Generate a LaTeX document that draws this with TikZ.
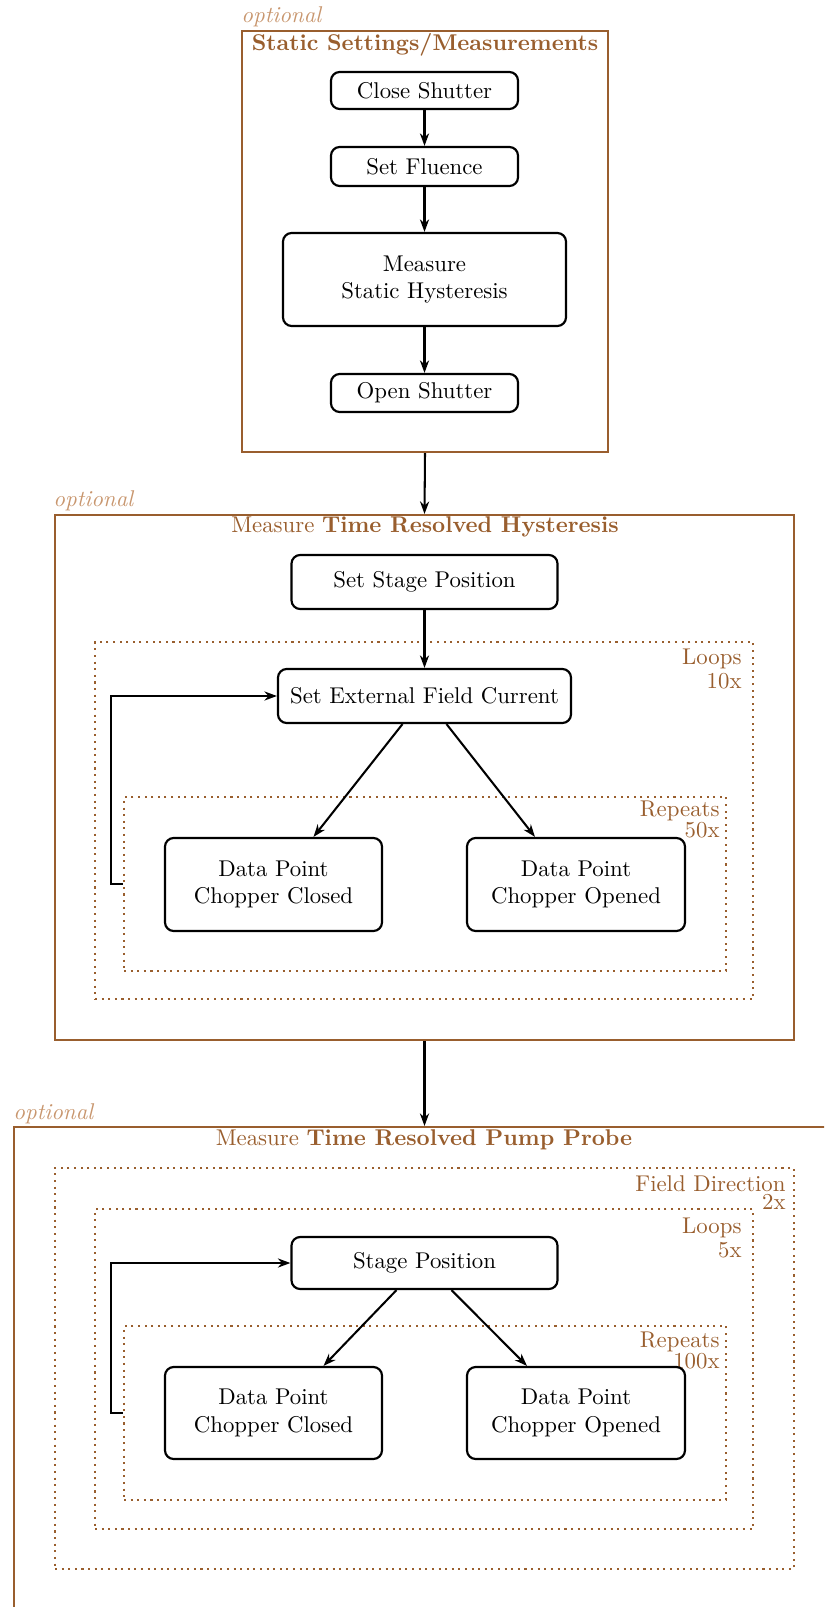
\documentclass[tikz,border=0pt]{standalone}
\usetikzlibrary{fit,calc,arrows.meta}
\definecolor{brn}{RGB}{153,94,46}
\definecolor{opt}{RGB}{200,150,110}
\begin{document}
\begin{tikzpicture}[x=0.4386pt,y=-0.4386pt,
  stepbox/.style={draw, line width=0.95pt, rounded corners=3.8pt, inner sep=0pt, align=center},
  sz/.style 2 args={minimum width=#1*0.4386pt, minimum height=#2*0.4386pt},
  outer/.style={draw=brn, line width=0.9pt, inner sep=0pt},
  innerbox/.style={draw=brn, line width=0.9pt, dotted, inner sep=0pt},
  optlbl/.style={font=\itshape, text=opt, anchor=base west, inner sep=0pt},
  ttl/.style={text=brn, anchor=base, inner sep=0pt},
  cnt/.style={text=brn, anchor=base east, inner sep=0pt, align=right},
  arr/.style={line width=0.9pt, -{Stealth[length=5.5pt,width=4pt]}}]
\useasboundingbox (0,0) rectangle (824,1607);
\clip (0,0) rectangle (824,1607);

% ---------- Box 1
\node[outer, fit={(242,31)(608,452)}] (b1) {};
\node[optlbl] (o1) at (241,23) {optional};
\node[ttl, font=\bfseries] (t1) at (425,51) {Static Settings/Measurements};
\node[stepbox, sz={187}{37}] (cs) at (424.5,90.5) {Close Shutter};
\node[stepbox, sz={187}{39}] (sf) at (424.5,166.5) {Set Fluence};
\node[stepbox, sz={283}{93}] (msh) at (424.5,279.5) {Measure\\Static Hysteresis};
\node[stepbox, sz={187}{38}] (os) at (424.5,393) {Open Shutter};
\draw[arr] (cs) -- (sf);
\draw[arr] (sf) -- (msh);
\draw[arr] (msh) -- (os);

% ---------- Box 2
\node[outer, fit={(55,515)(794,1040)}] (b2) {};
\node[optlbl] (o2) at (53,507) {optional};
\node[ttl] (t2) at (425,533) {Measure \textbf{Time Resolved Hysteresis}};
\node[stepbox, sz={266}{54}] (ssp) at (424.5,582) {Set Stage Position};
\node[innerbox, fit={(95,642)(753,999)}] (l2) {};
\node[cnt] (l2t) at (742,688) {Loops\\[-1.5pt]10x};
\node[stepbox, sz={293}{54}] (sef) at (424.5,696) {Set External Field Current};
\node[innerbox, fit={(124,797)(726,971)}] (r2) {};
\node[cnt] (r2t) at (720,837) {Repeats\\[-2.8pt]50x};
\node[stepbox, sz={217}{93}] (dpc2) at (273.5,884.5) {Data Point\\Chopper Closed};
\node[stepbox, sz={218}{93}] (dpo2) at (576,884.5) {Data Point\\Chopper Opened};
\draw[arr] (b1.south) -- (b2.north);
\draw[arr] (ssp) -- (sef);
\draw[arr] ($(sef.south)+(-22,0)$) -- ($(dpc2.north)+(40,0)$);
\draw[arr] ($(sef.south)+(22,0)$) -- ($(dpo2.north)+(-41,0)$);
\draw[arr] (r2.west) -- ++(-12,0) |- (sef.west);

% ---------- Box 3
\node[outer, fit={(14,1127)(840,1650)}] (b3) {};
\node[optlbl] (o3) at (13,1119) {optional};
\node[ttl] (t3) at (424,1145) {Measure \textbf{Time Resolved Pump Probe}};
\node[innerbox, fit={(55,1168)(794,1569)}] (fd3) {};
\node[cnt] (fd3t) at (786,1209) {Field Direction\\[-4.1pt]2x};
\node[innerbox, fit={(95,1209)(753,1529)}] (l3) {};
\node[cnt] (l3t) at (742,1257) {Loops\\[-1.9pt]5x};
\node[stepbox, sz={266}{52}] (sp) at (424.5,1263) {Stage Position};
\node[innerbox, fit={(124,1326)(726,1500)}] (r3) {};
\node[cnt] (r3t) at (720,1368) {Repeats\\[-3.2pt]100x};
\node[stepbox, sz={217}{92}] (dpc3) at (273.5,1413) {Data Point\\Chopper Closed};
\node[stepbox, sz={218}{92}] (dpo3) at (576,1413) {Data Point\\Chopper Opened};
\draw[arr] (b2.south) -- (b3.north -| b2.south);
\draw[arr] ($(sp.south)+(-28,0)$) -- ($(dpc3.north)+(50,0)$);
\draw[arr] ($(sp.south)+(27,0)$) -- ($(dpo3.north)+(-49,0)$);
\draw[arr] (r3.west) -- ++(-12,0) |- (sp.west);
\end{tikzpicture}
\end{document}
